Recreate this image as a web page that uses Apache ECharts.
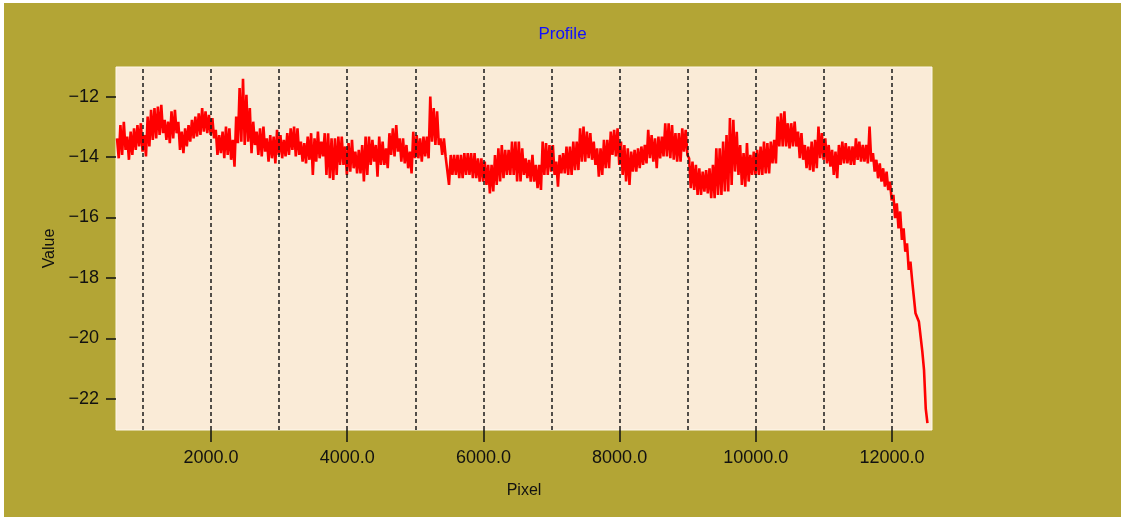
<!DOCTYPE html>
<html>
<head>
<meta charset="utf-8">
<script src="https://cdn.jsdelivr.net/npm/echarts@6/dist/echarts.min.js"></script>
<style>
  html, body { margin: 0; padding: 0; background: #ffffff; width: 1121px; height: 517px; overflow: hidden; }
  #chart { position: absolute; left: 4px; top: 3px; width: 1117px; height: 514px; background: #b3a535; }
</style>
</head>
<body>
<div id="chart"></div>
<script>
// Sampled profile (upper / lower edge of the noisy trace, alternately): one sample every xStep pixels from xStart
const xStart = 620;
const xStep = 25;
const profileValues = [
  -13.38,-14.04, -12.94,-13.93, -12.83,-13.76, -13.32,-14.09, -13.16,-13.93,
  -13.05,-13.76, -12.94,-13.65, -12.88,-13.82, -13.27,-13.98, -12.66,-13.65,
  -12.44,-13.43, -12.38,-13.38, -12.33,-13.27, -12.27,-13.21, -12.77,-13.43,
  -12.83,-13.54, -12.49,-13.38, -12.44,-13.21, -12.83,-13.76, -13.16,-13.87,
  -13.05,-13.65, -12.94,-13.49, -12.77,-13.38, -12.66,-13.32, -12.55,-13.27,
  -12.38,-13.16, -12.49,-13.21, -12.60,-13.27, -12.71,-13.38, -13.10,-13.93,
  -13.27,-13.87, -13.16,-14.04, -12.99,-13.93, -13.05,-14.09, -13.43,-14.32,
  -12.66,-13.54, -11.72,-13.49, -11.41,-13.60, -11.94,-13.49, -12.38,-13.87,
  -12.83,-13.60, -13.16,-13.93, -13.05,-13.98, -12.99,-13.82, -13.38,-14.15,
  -13.27,-14.04, -13.32,-14.21, -13.10,-13.93, -13.27,-14.04, -13.43,-13.98,
  -13.21,-13.93, -13.05,-13.76, -12.99,-13.98, -13.05,-13.93, -13.49,-14.15,
  -13.54,-14.21, -13.32,-14.09, -13.21,-14.59, -13.38,-14.15, -13.16,-14.04,
  -13.49,-13.98, -13.21,-14.59, -13.21,-14.70, -13.38,-14.76, -13.38,-14.59,
  -13.32,-14.26, -13.32,-14.26, -13.65,-14.59, -13.54,-14.48, -13.43,-14.37,
  -13.82,-14.54, -13.76,-14.54, -13.60,-14.81, -13.32,-14.59, -13.32,-14.26,
  -13.43,-14.15, -13.60,-14.65, -13.32,-14.26, -13.49,-14.26, -13.71,-14.37,
  -13.21,-13.93, -13.05,-13.98, -12.94,-13.82, -13.38,-14.15, -13.38,-14.21,
  -13.60,-14.37, -13.82,-14.54, -13.16,-14.04, -13.27,-14.04, -13.38,-14.15,
  -13.32,-13.98, -13.32,-14.04, -12.00,-13.49, -12.38,-13.60, -12.49,-13.60,
  -13.38,-13.93, -13.38,-13.98, -13.93,-14.92, -13.93,-14.59, -13.93,-14.59,
  -13.93,-14.70, -13.93,-14.70, -13.87,-14.59, -13.87,-14.59, -13.87,-14.70,
  -13.87,-14.70, -14.04,-14.81, -14.04,-14.81, -14.15,-14.92, -14.26,-15.20,
  -14.26,-15.14, -13.93,-14.92, -13.71,-14.81, -13.60,-14.70, -13.76,-14.59,
  -13.76,-14.59, -13.49,-14.59, -13.49,-14.81, -13.49,-14.81, -13.71,-14.59,
  -14.04,-14.70, -14.09,-14.81, -13.93,-14.81, -14.26,-15.03, -14.26,-15.09,
  -13.49,-14.59, -13.54,-14.59, -13.60,-14.48, -13.60,-14.59, -14.15,-14.98,
  -13.93,-14.54, -13.87,-14.54, -13.65,-14.59, -13.65,-14.59, -13.49,-14.43,
  -13.49,-14.43, -13.05,-14.15, -12.99,-14.15, -13.16,-14.04, -13.21,-14.09,
  -13.49,-14.26, -13.71,-14.65, -13.71,-14.59, -13.43,-14.37, -13.43,-14.37,
  -13.16,-13.93, -13.10,-13.98, -13.05,-14.26, -13.49,-14.59, -13.60,-14.81,
  -13.71,-14.92, -13.82,-14.48, -13.76,-14.48, -13.71,-14.37, -13.65,-14.26,
  -13.60,-14.21, -13.10,-14.04, -13.27,-14.15, -13.38,-14.37, -13.32,-14.04,
  -13.32,-13.98, -12.88,-13.98, -12.88,-14.04, -12.94,-14.09, -13.21,-14.15,
  -13.21,-14.15, -13.05,-13.82, -13.10,-13.93, -14.04,-15.03, -14.15,-15.09,
  -14.26,-15.25, -14.37,-15.25, -14.48,-15.14, -14.43,-15.20, -14.37,-15.36,
  -14.26,-15.36, -13.71,-15.25, -13.71,-15.25, -13.49,-15.14, -13.27,-15.14,
  -12.71,-14.92, -12.77,-14.48, -13.16,-14.59, -13.60,-14.92, -13.87,-14.98,
  -13.54,-14.81, -13.93,-14.59, -13.82,-14.59, -13.76,-14.59, -13.65,-14.59,
  -13.49,-14.54, -13.54,-14.54, -13.49,-14.21, -13.43,-14.21, -12.66,-13.65,
  -12.55,-13.65, -12.49,-13.65, -12.88,-13.71, -12.88,-13.65, -12.83,-13.65,
  -13.16,-14.04, -13.21,-14.09, -13.60,-14.37, -13.65,-14.43, -13.49,-14.48,
  -13.43,-14.37, -12.99,-14.04, -13.21,-14.09, -13.38,-14.21, -13.60,-14.32,
  -13.76,-14.59, -13.82,-14.70, -13.60,-14.26, -13.49,-14.21, -13.54,-14.21,
  -13.65,-14.26, -13.65,-14.26, -13.38,-14.09, -13.49,-14.15, -13.60,-14.15,
  -13.60,-14.21, -12.99,-14.15, -13.87,-14.48, -14.09,-14.70, -14.21,-14.81,
  -14.37,-14.98, -14.48,-15.09, -14.81,-15.43,
  -15.25,-16.02, -15.53,-16.36, -15.80,-16.74, -16.36,-17.13, -16.85,-17.73,
  -17.46,-18.07, -18.12,-19.17, -19.17,-19.45, -19.39,-20.44, -21.05,-22.32,
  -22.80
];
const xTickLabels = [2000, 4000, 6000, 8000, 10000, 12000];
const xGridLines = [1000, 2000, 3000, 4000, 5000, 6000, 7000, 8000, 9000, 10000, 11000, 12000];
const yTickLabels = [-22, -20, -18, -16, -14, -12];

const points = profileValues.map((v, i) => [xStart + i * xStep, v]);

const chart = echarts.init(document.getElementById('chart'), null, { renderer: 'canvas' });
const font = 'Liberation Sans, Arial, sans-serif';
chart.setOption({
  backgroundColor: '#b3a535',
  animation: false,
  title: {
    text: 'Profile',
    left: 'center',
    top: 18,
    textStyle: { color: '#1010ff', fontSize: 17, fontWeight: 'normal', fontFamily: font }
  },
  grid: {
    left: 112, right: 189, top: 64, bottom: 87,
    show: true, backgroundColor: '#faebd7', borderColor: '#fff8ec', borderWidth: 1
  },
  xAxis: {
    type: 'value',
    min: 605, max: 12587,
    name: 'Pixel',
    nameLocation: 'middle',
    nameGap: 53,
    nameTextStyle: { color: '#111', fontSize: 16, fontFamily: font },
    axisLine: { show: false },
    axisTick: { show: true, customValues: xTickLabels, length: 12, lineStyle: { color: '#111', width: 1.5 } },
    axisLabel: { customValues: xTickLabels, margin: 19, color: '#111', fontSize: 18, fontFamily: font,
      formatter: v => Number(v).toFixed(1) },
    splitLine: { show: false }
  },
  yAxis: {
    type: 'value',
    min: -23.03, max: -11.02,
    name: 'Value',
    nameLocation: 'middle',
    nameGap: 58,
    nameTextStyle: { color: '#111', fontSize: 16, fontFamily: font },
    axisLine: { show: false },
    axisTick: { show: true, customValues: yTickLabels, length: 10, lineStyle: { color: '#111', width: 1.5 } },
    axisLabel: { customValues: yTickLabels, margin: 17, color: '#111', fontSize: 18, fontFamily: font,
      formatter: v => String(v).replace('-', '\u2212') },
    splitLine: { show: false }
  },
  series: [{
    type: 'line',
    data: points,
    showSymbol: false,
    symbol: 'none',
    lineStyle: { color: '#ff0000', width: 2.6 },
    itemStyle: { color: '#ff0000' },
    markLine: {
      silent: true,
      symbol: 'none',
      label: { show: false },
      lineStyle: { color: '#1a1a1a', type: [4, 3], width: 1.5 },
      data: xGridLines.map(x => ({ xAxis: x }))
    }
  }]
});
</script>
</body>
</html>
